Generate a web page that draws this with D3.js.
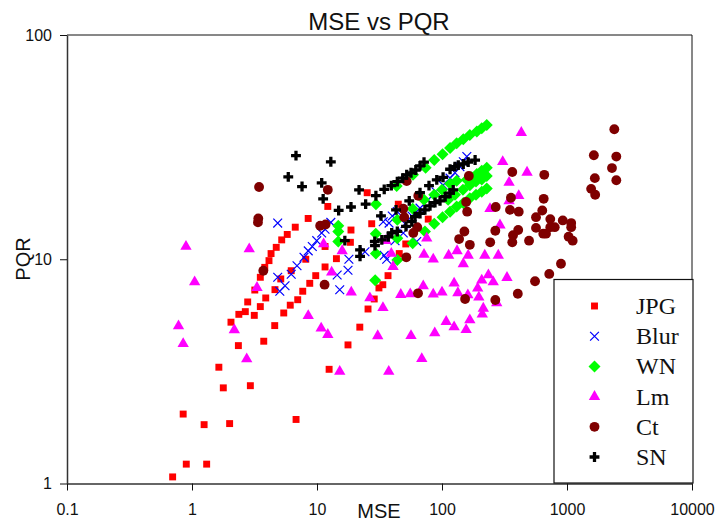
<!DOCTYPE html>
<html>
<head>
<meta charset="utf-8">
<script src="https://cdn.jsdelivr.net/npm/d3@7"></script>
<style>
body { margin: 0; background: #fff; }
svg { display: block; }
.axis text { font-family: "Liberation Sans", Arial, sans-serif; font-size: 16px; fill: #111; }
.label { font-family: "Liberation Sans", Arial, sans-serif; font-size: 20px; fill: #111; text-anchor: middle; }
.title { font-size: 24px; }
.legend-text { font-family: "Liberation Serif", "Times New Roman", serif; font-size: 24px; fill: #111; }
</style>
</head>
<body>
<div id="chart"></div>
<script>
'use strict';

const width = 717,
    height = 521,
    margin = {top: 35, right: 25, bottom: 37.5, left: 67};

const xTicks = [0.1, 1, 10, 100, 1000, 10000];
const yTicks = [1, 10, 100];

const jpg = [[0.70,1.07],[0.90,1.22],[1.31,1.22],[0.85,2.04],[1.25,1.83],[2.0,1.85],[6.8,1.93],[1.78,2.67],[2.93,2.73],[1.64,3.30],
    [2.35,4.12],[3.75,4.31],[4.59,5.06],[2.05,5.24],[2.37,5.68],[2.67,5.84],[3.15,5.62],[2.79,6.45],[3.52,6.15],[5.42,5.76],
    [6.11,6.24],[7.01,6.6],[3.89,6.72],[3.18,7.29],[4.61,7.32],[5.13,8.17],[6.22,8.89],[3.52,8.31],[3.82,9.2],[4.13,9.86],
    [4.29,10.6],[4.72,11.3],[5.22,12.2],[5.78,12.9],[6.7,13.9],[8.5,15.2],[12.2,17.2],[25.2,19.8],[44.7,17.6],[27.4,14.4],
    [18.7,13.5],[18.5,11.9],[11.6,11.4],[14.3,10.06],[11.6,9.24],[9.77,8.45],[8.75,7.81],[7.69,7.2],[8.13,10.0],[45.5,10.6],
    [51.3,11.7],[37,8.45],[33.6,7.7],[31.3,7.45],[28.7,6.65],[25.6,6.0],[22,4.98],[17.7,4.15],[12.5,3.23],[77.6,15.1]];

const blur = [[4.85,14.5],[6.92,9.36],[6.22,8.57],[4.85,8.31],[5.55,7.62],[5.04,7.2],[12.9,14.6],[11.6,13.6],[10.9,13.1],[9.95,12.1],
    [9.17,11.4],[8.51,10.9],[7.87,10.2],[18,10.0],[17.7,8.93],[14.5,8.51],[15.2,7.31],[24.2,10.8],[34.5,10.4],[36.1,10.0],
    [42.1,12.1],[33.9,14.7],[37.7,14.5],[40,15.6],[43.9,16.3],[49,13.1],[62.8,12],[50.6,14.4],[57.5,15.6],[66.7,16.9],
    [77.3,18.4],[89.5,20],[102,21.4],[116,23],[127,24.3],[139,25.9],[148,27.2],[158,28.7]];

const wn = [[43.4,21.2],[58.6,23.8],[74,25.6],[86.7,27.7],[101,29.4],[116,31.3],[131,32.9],[148,34.3],[167,35.8],[190,37.1],[208,38.4],[228,39.7],
    [29.6,17.6],[43.9,15],[58.3,16.8],[71.8,18.4],[86.7,19.4],[100,20.4],[116,21.7],[131,22.4],[158,22.6],[173,23.2],[190,24],[208,24.8],[228,25.6],
    [228,23.5],[208,22.7],[187,22.2],[167,21.4],[147,20.4],[127,19.4],[112,18.4],
    [14.8,14.1],[14.8,13.3],[14.8,12],[29.5,13],[43.9,12.4],[58.3,11.8],[73,13.3],[86.7,14.4],[101,15.4],[116,16.3],[131,17.2],[148,17.8],[167,18.7],[187,19.4],[208,20],[228,20.7],
    [29.6,10.6],[43.9,9.93],[29.2,8.06]];

const lm = [[0.895,11.4],[2.87,11.1],[1.05,7.92],[3.31,7.47],[0.78,5.04],[0.85,4.2],[2.18,4.84],[2.74,3.59],[11.3,11.7],[15.9,10.9],
    [13.1,8.75],[18.8,7.13],[26.5,6.72],[33.7,6.08],[8.51,5.6],[10.8,4.92],[12.2,4.61],[30.6,4.55],[56.5,4.56],[15.2,3.16],
    [37.5,3.16],[68.9,3.6],[87.5,4.69],[108,5.27],[125,4.99],[46.8,6.95],[55.7,7.0],[70.8,7.6],[85.1,6.98],[100,7.13],
    [125,7.82],[134,7.08],[40.6,9.27],[39.3,10.6],[71.8,10.5],[85.1,10],[113,10.4],[132,10.9],[75.5,12.4],[35.6,12.1],
    [431,36.7],[306,27.2],[479,24.4],[344,22],[411,19.2],[344,18.2],[242,16.8],[291,14.2],[162,10.4],[220,10.4],
    [282,10.4],[148,9.53],[235,8.51],[208,8.06],[257,7.92],[331,8.28],[193,7.42],[161,6.93],[197,6.77],[167,5.36],
    [214,6.04],[210,5.68],[274,6.38],[156,4.85]];

const ct = [[3.44,21],[3.39,15.2],[3.37,14.6],[3.72,8.89],[12.2,20.4],[10.6,14.1],[11.7,14.3],[52.2,22.3],[64.6,19.2],[49,16.8],
    [49.9,15.4],[63.4,13.9],[58.9,13.1],[137,12.3],[11.5,7.7],[51.8,10.2],[64.3,7.05],[2390,38],[1640,29.1],[2480,28.7],
    [2290,25.5],[1670,23],[2480,22.5],[1560,20.6],[1680,19.4],[164,23.5],[365,24.5],[658,23.8],[356,18.8],[651,18.6],
    [156,18],[159,16.3],[269,17.1],[350,16.6],[411,16.3],[634,16.5],[565,15.4],[735,15.1],[925,14.9],[1080,14.5],
    [1080,13.9],[565,13.8],[735,13.9],[798,13.9],[407,13.5],[267,13.4],[151,13.3],[167,11.6],[243,11.9],[370,12.8],
    [365,11.9],[497,12.1],[646,13],[679,13],[1030,12.6],[1110,12.1],[895,9.55],[721,8.6],[555,7.98],[404,7.02],
    [267,6.58],[153,6.65]];

const sn = [[6.79,29],[12.9,27.2],[5.89,23.3],[7.59,21.1],[10.9,21.9],[11.2,18.6],[14.9,16.5],[18.7,17.1],[21.7,20.4],[24.5,17.6],
    [29.6,19.2],[34.5,20.5],[39.3,21.3],[43.9,22.2],[48.5,23],[52.2,23.8],[56.5,24.3],[61.7,25],[66.7,26.1],[71.8,27.1],
    [32.5,15.6],[42.9,16.6],[54.7,18.2],[66.7,19.8],[78.7,21.3],[90.8,22.6],[102,23.2],[116,25.2],[127,25.9],[135,26.3],
    [148,26.6],[162,27.1],[184,27.7],[16.7,12.1],[22.1,11],[22.1,10.3],[29,12],[29.1,11.5],[33,12.2],[37.2,12.6],
    [39.6,13.1],[43.9,13.3],[51.5,14],[57.3,14.7],[60.8,15.5],[66.7,16],[73,16.6],[80.2,17.3],[87.9,17.9],[96.4,18.2],
    [106,19],[116,19.7],[123,20.4]];

const seriesNames = ["JPG", "Blur", "WN", "Lm", "Ct", "SN"];
const seriesValues = [jpg, blur, wn, lm, ct, sn];
const seriesColors = ["#ff0000", "#0000ff", "#00ff00", "#ff00ff", "#7f0000", "#000000"];

const markers = [
    {type: d3.symbolSquare, size: 48},
    {type: d3.symbolTimes, size: 52, line: true},
    {type: d3.symbolSquare, size: 72, rotate: 45},
    {type: d3.symbolTriangle, size: 56},
    {type: d3.symbolCircle, size: 76},
    {type: d3.symbolCross, size: 54}
];

const svg = d3.select("#chart").append("svg")
    .attr("width", width)
    .attr("height", height);

const xScale = d3.scaleLog().domain([0.1, 10000])
    .range([margin.left, width - margin.right]);
const yScale = d3.scaleLog().domain([1, 100])
    .range([height - margin.bottom, margin.top]);

function marker(sel, i) {
    const m = markers[i];
    sel.attr("d", d3.symbol().type(m.type).size(m.size))
        .attr("fill", m.line ? "none" : seriesColors[i])
        .attr("stroke", m.line ? seriesColors[i] : "none")
        .attr("stroke-width", m.line ? 1.2 : 0);
}

seriesValues.forEach((values, i) => {
    svg.append("g").selectAll("path")
        .data(values)
        .join("path")
        .call(marker, i)
        .attr("transform", d => `translate(${xScale(d[0])},${yScale(d[1])}) rotate(${markers[i].rotate || 0})`);
});

// frame, top and right
svg.append("path")
    .attr("d", `M${margin.left},${margin.top}H${width - margin.right}V${height - margin.bottom}`)
    .attr("fill", "none")
    .attr("stroke", "#111")
    .attr("stroke-width", 1);

const xAxis = d3.axisBottom(xScale)
    .tickValues(xTicks)
    .tickFormat(d => String(d))
    .tickSize(7)
    .tickSizeOuter(0)
    .tickPadding(13);
const yAxis = d3.axisLeft(yScale)
    .tickValues(yTicks)
    .tickFormat(d => String(d))
    .tickSize(7)
    .tickSizeOuter(0)
    .tickPadding(8);

svg.append("g")
    .attr("class", "axis x-axis")
    .attr("transform", `translate(0,${height - margin.bottom})`)
    .call(xAxis);
svg.append("g")
    .attr("class", "axis y-axis")
    .attr("transform", `translate(${margin.left},0)`)
    .call(yAxis);
svg.selectAll(".axis .domain").attr("stroke", "#333").attr("stroke-width", 1.5);
svg.selectAll(".axis line").attr("stroke", "#111");

svg.append("text").attr("class", "label title")
    .attr("x", 379).attr("y", 30)
    .text("MSE vs PQR");
svg.append("text").attr("class", "label")
    .attr("x", 379).attr("y", 518)
    .text("MSE");
svg.append("text").attr("class", "label")
    .attr("transform", "translate(30,259) rotate(-90)")
    .text("PQR");

// legend sits on top of the plot, lower right
const legend = svg.append("g");
legend.append("rect")
    .attr("x", 554).attr("y", 279.5)
    .attr("width", 139).attr("height", 203.5)
    .attr("fill", "#fff")
    .attr("stroke", "#111")
    .attr("stroke-width", 1.2);

const legendY = d3.scalePoint().domain(seriesNames).range([306, 457]);

seriesNames.forEach((name, i) => {
    legend.append("path")
        .call(marker, i)
        .attr("transform", `translate(594.5,${legendY(name)}) rotate(${markers[i].rotate || 0})`);
    legend.append("text")
        .attr("class", "legend-text")
        .attr("x", 636)
        .attr("y", legendY(name) + 8)
        .text(name);
});
</script>
</body>
</html>
